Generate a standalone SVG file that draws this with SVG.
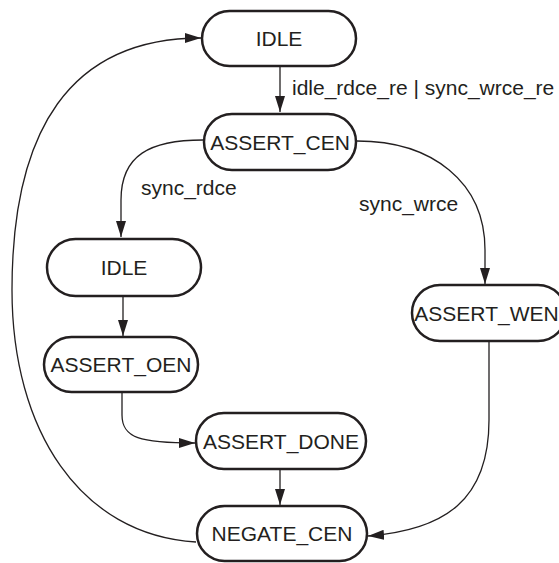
<svg xmlns="http://www.w3.org/2000/svg" width="559" height="563" viewBox="0 0 559 563">
<defs>
<style>
.node rect{fill:#fff;stroke:#231f20;stroke-width:2.5}
.node text{font-family:"Liberation Sans",Arial,sans-serif;font-size:21px;fill:#231f20;text-anchor:middle}
.edge{fill:none;stroke:#231f20;stroke-width:1.3}
.lbl{font-family:"Liberation Sans",Arial,sans-serif;font-size:21px;fill:#231f20}
</style>
<marker id="ah" markerUnits="userSpaceOnUse" markerWidth="16" markerHeight="10" refX="16" refY="5" orient="auto">
<path d="M0,0 L16,5 L0,10 z" fill="#231f20"/>
</marker>
</defs>
<rect width="559" height="563" fill="#fff"/>
<g id="connectors">
<path class="edge" marker-end="url(#ah)" d="M280,67 L280,112"/>
<path class="edge" marker-end="url(#ah)" d="M203,140 C150,140 121,155 121,200 L121,237"/>
<path class="edge" marker-end="url(#ah)" d="M357,141 C432,141 485,182 485,250 L485,284"/>
<path class="edge" marker-end="url(#ah)" d="M123,297 L123,336"/>
<path class="edge" marker-end="url(#ah)" d="M122,393 L122,415 C122,438 140,443 195,443"/>
<path class="edge" marker-end="url(#ah)" d="M280,470 L280,505"/>
<path class="edge" marker-end="url(#ah)" d="M489,342 L489,420 C489,500 445,530 368,536"/>
<path class="edge" marker-end="url(#ah)" d="M196,542 C80,535 12,430 12,290 C12,130 70,38 201,38"/>
<text class="lbl" x="292" y="95">idle_rdce_re | sync_wrce_re</text>
<text class="lbl" x="141" y="195">sync_rdce</text>
<text class="lbl" x="359" y="211">sync_wrce</text>
</g>
<g id="idle_top" class="node"><rect x="202" y="11" width="154" height="55" rx="27.5"/><text x="279" y="46">IDLE</text></g>
<g id="assert_cen" class="node"><rect x="204" y="114" width="152" height="56" rx="28"/><text x="280" y="149.5">ASSERT_CEN</text></g>
<g id="idle_read" class="node"><rect x="47" y="239" width="154" height="57" rx="28.5"/><text x="124" y="275">IDLE</text></g>
<g id="assert_oen" class="node"><rect x="44" y="337" width="154" height="55" rx="27.5"/><text x="121" y="372">ASSERT_OEN</text></g>
<g id="assert_wen" class="node"><rect x="412" y="285" width="154" height="56" rx="28"/><text x="486.5" y="320.5">ASSERT_WEN</text></g>
<g id="assert_done" class="node"><rect x="196" y="413" width="170" height="56" rx="28"/><text x="281" y="448.5">ASSERT_DONE</text></g>
<g id="negate_cen" class="node"><rect x="197" y="506" width="170" height="55" rx="27.5"/><text x="282" y="541">NEGATE_CEN</text></g>
</svg>
